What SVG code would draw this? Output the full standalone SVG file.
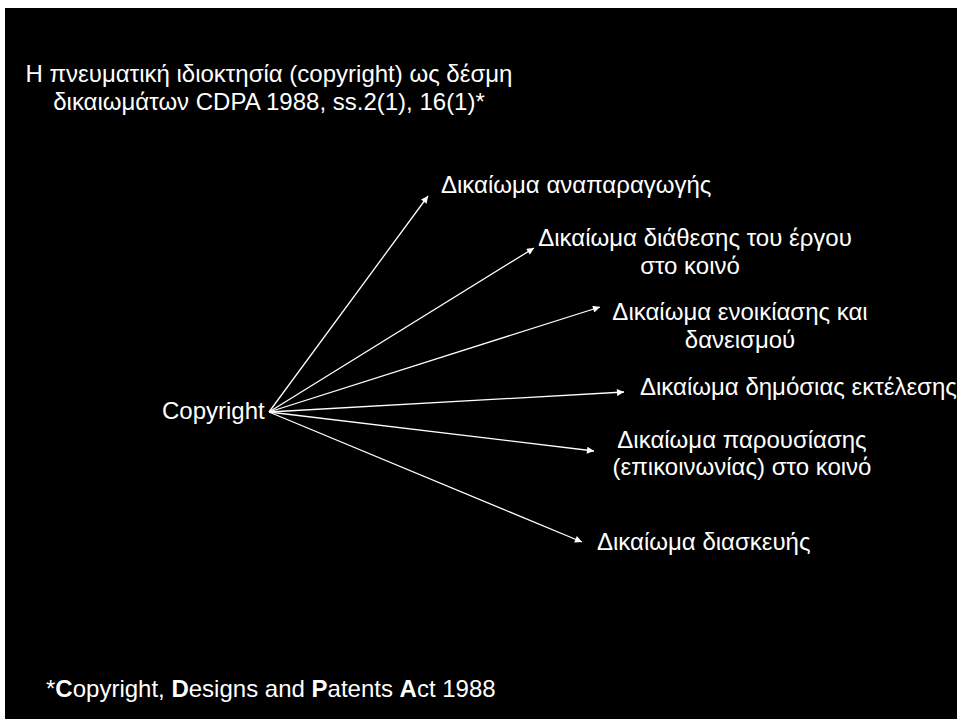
<svg xmlns="http://www.w3.org/2000/svg" width="957" height="719" viewBox="0 0 957 719">
<style>
text { font-family: "Liberation Sans", Arial, sans-serif; font-size: 24px; fill: #ffffff; }
.c { text-anchor: middle; }
.conn line { stroke: #ffffff; stroke-width: 1.3; fill: none; marker-end: url(#arr); }
</style>
<defs>
<marker id="arr" viewBox="0 0 10 10" refX="10" refY="5" markerUnits="userSpaceOnUse" markerWidth="9" markerHeight="7" orient="auto">
<path d="M0,0 L10,5 L0,10 z" fill="#ffffff"/>
</marker>
</defs>
<rect x="0" y="0" width="957" height="719" fill="#ffffff"/>
<rect x="5" y="8" width="952" height="711" fill="#000000"/>
<g id="title">
<text class="c" x="269" y="82">Η πνευματική ιδιοκτησία (copyright) ως δέσμη</text>
<text class="c" x="269" y="110">δικαιωμάτων CDPA 1988, ss.2(1), 16(1)*</text>
</g>
<g id="copyright"><text x="162" y="419">Copyright</text></g>
<g id="r1"><text x="441" y="193">Δικαίωμα αναπαραγωγής</text></g>
<g id="r2">
<text class="c" x="695" y="246">Δικαίωμα διάθεσης του έργου</text>
<text class="c" x="690" y="274">στο κοινό</text>
</g>
<g id="r3">
<text class="c" x="740" y="320">Δικαίωμα ενοικίασης και</text>
<text class="c" x="740" y="348">δανεισμού</text>
</g>
<g id="r4"><text x="640" y="395">Δικαίωμα δημόσιας εκτέλεσης</text></g>
<g id="r5">
<text class="c" x="742" y="448">Δικαίωμα παρουσίασης</text>
<text class="c" x="742" y="475">(επικοινωνίας) στο κοινό</text>
</g>
<g id="r6"><text x="597" y="550">Δικαίωμα διασκευής</text></g>
<g id="footer"><text x="46" y="697">*<tspan font-weight="bold">C</tspan>opyright, <tspan font-weight="bold">D</tspan>esigns and <tspan font-weight="bold">P</tspan>atents <tspan font-weight="bold">A</tspan>ct 1988</text></g>
<g id="connectors" class="conn">
<line x1="269" y1="412" x2="428" y2="196"/>
<line x1="269" y1="412" x2="534" y2="248"/>
<line x1="269" y1="412" x2="600" y2="307"/>
<line x1="269" y1="412" x2="624" y2="392"/>
<line x1="269" y1="412" x2="594" y2="451"/>
<line x1="269" y1="412" x2="582" y2="542"/>
</g>
</svg>
